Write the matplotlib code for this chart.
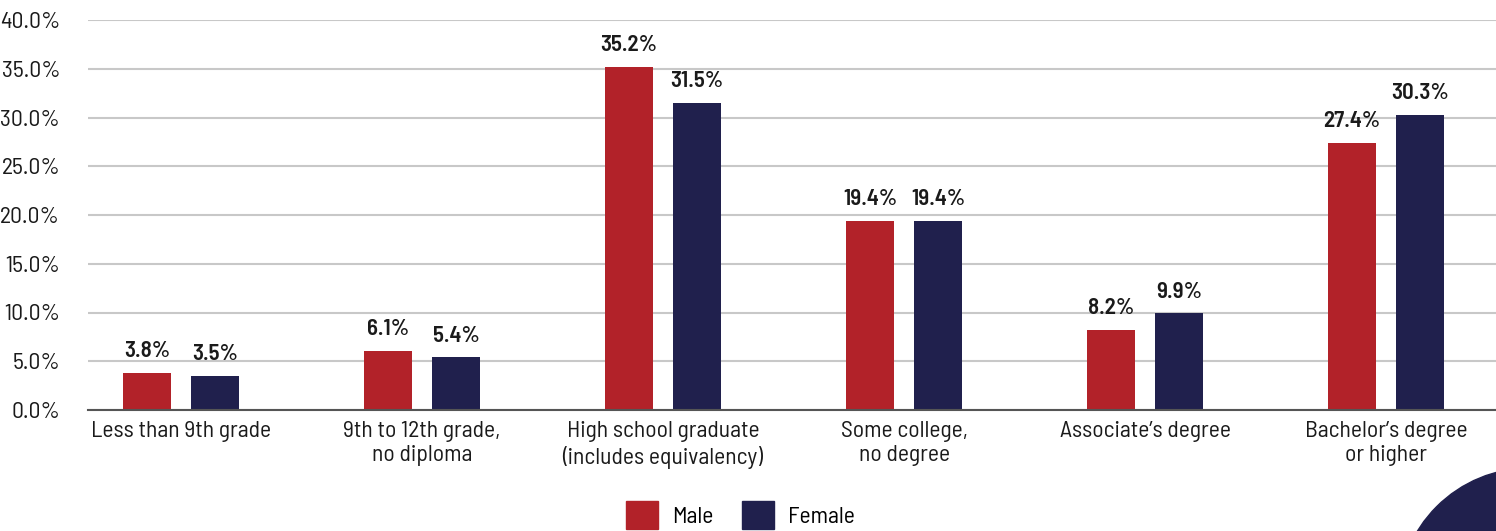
import numpy as np
import matplotlib.pyplot as plt
from matplotlib.patches import Ellipse, Patch

plt.rcParams['font.family'] = ['Barlow Semi Condensed', 'IBM Plex Sans Condensed', 'DejaVu Sans']

# данные
categories = ["Less than 9th grade", "9th to 12th grade,\nno diploma",
              "High school graduate\n(includes equivalency)", "Some college,\nno degree",
              "Associate\u2019s degree", "Bachelor\u2019s degree\nor higher"]
male = [3.8, 6.1, 35.2, 19.4, 8.2, 27.4]
female = [3.5, 5.4, 31.5, 19.4, 9.9, 30.3]
series_names = ["Male", "Female"]

RED = "#b22229"
NAVY = "#20204d"
TXT = "#1a1a1a"

fig = plt.figure(figsize=(14.96, 5.31), dpi=100)
ax = fig.add_axes([88 / 1496, 1 - 410 / 531, 1 - 88 / 1496, 390 / 531])

x = np.arange(len(categories))
w = 0.2
off = 0.141
b1 = ax.bar(x - off, male, w, color=RED, zorder=3)
b2 = ax.bar(x + off, female, w, color=NAVY, zorder=3)

for bars, vals in ((b1, male), (b2, female)):
    for r, v in zip(bars, vals):
        ax.text(r.get_x() + r.get_width() / 2, v + 1.2, f"{v:.1f}%",
                ha="center", va="bottom", fontsize=16.5, fontweight="semibold", color=TXT)

ax.set_xlim(-0.386, 5.456)
ax.set_ylim(0, 40)
ax.set_yticks(np.arange(0, 41, 5))
ax.set_yticklabels([f"{t:.1f}%" for t in np.arange(0, 41, 5)])
ax.set_xticks(x)
ax.set_xticklabels(categories)
ax.tick_params(axis="y", length=0, pad=20, labelsize=17, labelcolor=TXT)
ax.tick_params(axis="x", length=0, pad=8, labelsize=17, labelcolor=TXT)
ax.grid(axis="y", color="#c8c8c8", linewidth=1.5, zorder=0)
for s in ("top", "right", "left"):
    ax.spines[s].set_visible(False)
ax.spines["bottom"].set_color("#555555")
ax.spines["bottom"].set_linewidth(1.5)
ax.spines["bottom"].set_zorder(4)

handles = [Patch(color=RED), Patch(color=NAVY)]
fig.legend(handles, series_names, loc="center", bbox_to_anchor=(0.495, 0.03),
           ncol=2, frameon=False, fontsize=17, handlelength=1.35, handleheight=1.4,
           columnspacing=1.2, handletextpad=0.6)

# декоративный круг в углу
fig.patches.append(Ellipse((1530 / 1496, -69 / 531), 264 / 1496, 264 / 531,
                           transform=fig.transFigure, color=NAVY, zorder=0))

fig.savefig("out.png", dpi=100)
